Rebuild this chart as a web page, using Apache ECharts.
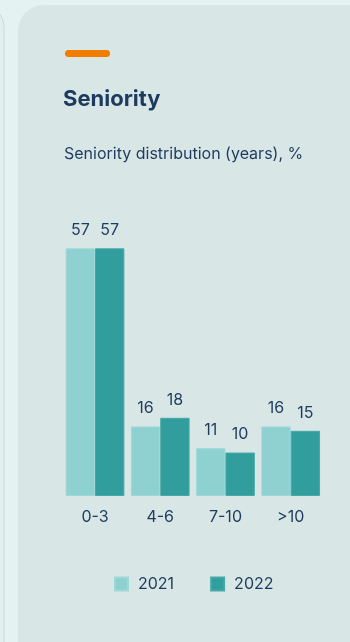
<!DOCTYPE html>
<html>
<head>
<meta charset="utf-8">
<script src="https://cdn.jsdelivr.net/npm/echarts@6/dist/echarts.min.js"></script>
<style>
html,body{margin:0;padding:0;background:#e5f2f2;}
#c{width:350px;height:642px;}
</style>
</head>
<body>
<div id="c"></div>
<script>
const categories = ['0-3', '4-6', '7-10', '>10'];
const seriesNames = ['2021', '2022'];
const values2021 = [57, 16, 11, 16];
const values2022 = [57, 18, 10, 15];

const textColor = '#1d3b5e';
const fontFamily = 'Inter, "Liberation Sans", Arial, sans-serif';

const chart = echarts.init(document.getElementById('c'), null, {renderer: 'canvas'});
chart.setOption({
  backgroundColor: '#e5f2f2',
  animation: false,
  graphic: [
    {type: 'rect', shape: {x: -40, y: 5, width: 44, height: 700, r: 22}, style: {fill: '#e2efef', stroke: '#c8d9d9', lineWidth: 1}, z: -10},
    {type: 'rect', shape: {x: 18, y: 5, width: 400, height: 700, r: 26}, style: {fill: '#d9e6e6'}, z: -10},
    {type: 'rect', shape: {x: 65, y: 50, width: 45, height: 7, r: 3.5}, style: {fill: '#f07c00'}, z: -5}
  ],
  title: [
    {text: 'Seniority', left: 63, top: 88, textStyle: {fontFamily: fontFamily, fontSize: 22, fontWeight: 'bold', color: textColor}, padding: 0},
    {text: 'Seniority distribution (years), %', left: 64, top: 146, textStyle: {fontFamily: fontFamily, fontSize: 16, fontWeight: 'normal', color: textColor}, padding: 0}
  ],
  legend: {
    data: seriesNames,
    left: 114, top: 576, padding: 0,
    itemWidth: 13, itemHeight: 13, itemGap: 36,
    icon: 'rect',
    textStyle: {fontFamily: fontFamily, fontSize: 16, color: textColor, padding: [0, 0, 0, 5]}
  },
  grid: {left: 62.4, right: 26.7, top: 235.3, bottom: 146, containLabel: false},
  xAxis: {
    type: 'category', data: categories,
    axisLine: {show: false}, axisTick: {show: false},
    axisLabel: {fontFamily: fontFamily, fontSize: 16, color: textColor, margin: 13}
  },
  yAxis: {type: 'value', min: 0, max: 60, show: false, splitLine: {show: false}},
  series: [
    {name: '2021', type: 'bar', data: values2021, barGap: '0%', barCategoryGap: '10%',
     itemStyle: {color: '#8fd1d1', borderColor: '#9fd8d8', borderWidth: 1},
     label: {show: true, position: 'top', distance: 10, fontFamily: fontFamily, fontSize: 16, color: textColor}},
    {name: '2022', type: 'bar', data: values2022, barGap: '0%', barCategoryGap: '10%',
     itemStyle: {color: '#329d9d', borderColor: '#47a8a8', borderWidth: 1},
     label: {show: true, position: 'top', distance: 10, fontFamily: fontFamily, fontSize: 16, color: textColor}}
  ]
});
</script>
</body>
</html>
